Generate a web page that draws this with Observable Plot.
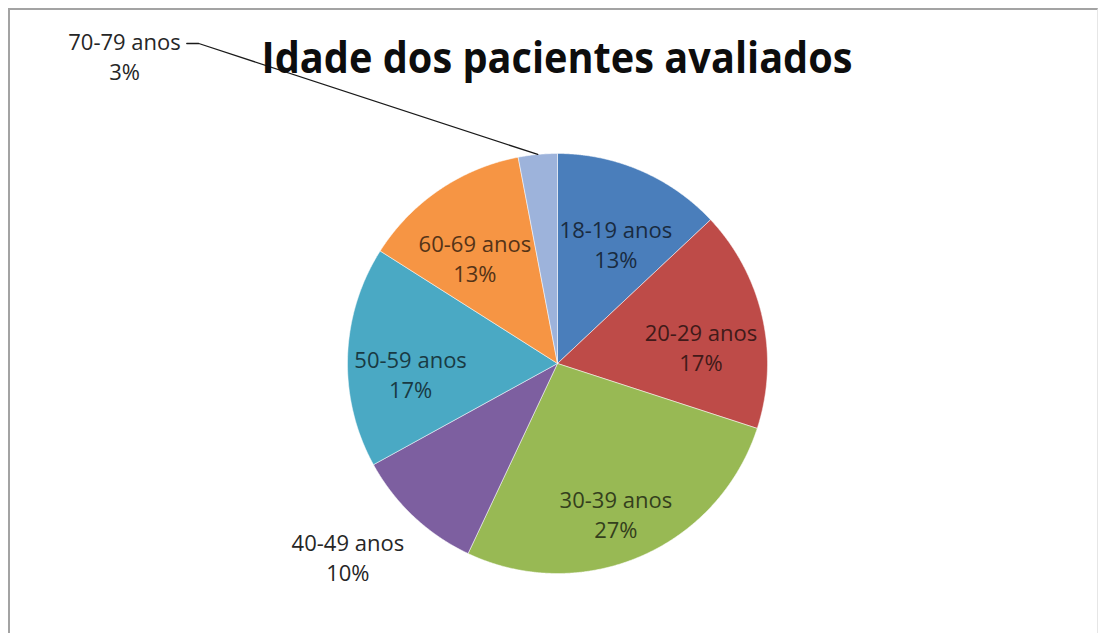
<!DOCTYPE html>
<html>
<head>
<meta charset="utf-8">
<script src="https://cdn.jsdelivr.net/npm/d3@7"></script>
<script src="https://cdn.jsdelivr.net/npm/@observablehq/plot@0.6"></script>
<style>
  body { margin: 0; background: #fff; }
  #wrap { position: relative; width: 1099px; height: 633px; overflow: hidden; background: #fff; }
  #frame { position: absolute; left: 8px; top: 8px; width: 1090px; height: 700px; box-sizing: border-box;
           border-top: 2px solid #a3a3a3; border-left: 2px solid #a3a3a3; border-right: 1px solid #e6e6e6; }
  #title { position: absolute; left: 0; top: 35px; width: 1115px; text-align: center;
           font-family: "Open Sans", sans-serif; font-weight: 700; font-size: 43px; line-height: 43px; color: #0d0d0d; white-space: nowrap; }
  #title span { display: inline-block; transform-origin: center; }
  #chart { position: absolute; left: 0; top: 0; }
</style>
</head>
<body>
<div id="wrap">
  <div id="frame"></div>
  <div id="chart"></div>
  <div id="title"><span>Idade dos pacientes avaliados</span></div>
</div>
<script>
// ---- data ----
const categories = ["18-19 anos", "20-29 anos", "30-39 anos", "40-49 anos", "50-59 anos", "60-69 anos", "70-79 anos"];
const values = [13, 17, 27, 10, 17, 13, 3];
const colors = ["#4a7ebb", "#be4b48", "#98b954", "#7d5fa0", "#4aa9c4", "#f69544", "#9db3db"];
const placement = ["inside", "inside", "inside", "outside", "inside", "inside", "callout"];

// ---- layout ----
const W = 1099, H = 633;
const cx = 557, cy = 363, R = 210;
const fontFamily = "Open Sans";
const fontSize = 22, lineH = 30;
const calloutCenter = {x: 124, y: 55};
const titleWidth = 591;

const total = d3.sum(values);
const arcs = d3.pie().sort(null).value(d => d)(values);
const polar = (a, r) => ({x: cx + r * Math.sin(a), y: cy - r * Math.cos(a)});

// slice polygons
const slicePts = arcs.map((a, i) => {
  const n = Math.max(4, Math.ceil((a.endAngle - a.startAngle) / 0.005));
  const pts = [{x: cx, y: cy}];
  for (let k = 0; k <= n; k++) pts.push(polar(a.startAngle + (a.endAngle - a.startAngle) * k / n, R));
  pts.push({x: cx, y: cy});
  return pts;
});

// text measuring
const ctx = document.createElement("canvas").getContext("2d");
ctx.font = `${fontSize}px "${fontFamily}"`;
const measure = s => ctx.measureText(s).width;

const labels = [];
const leaders = [];
arcs.forEach((a, i) => {
  const mid = (a.startAngle + a.endAngle) / 2;
  const pct = Math.round(values[i] / total * 100) + "%";
  const text = categories[i] + "\n" + pct;
  const w = Math.max(measure(categories[i]), measure(pct));
  let p;
  if (placement[i] === "inside") {
    const q = polar(mid, R * 0.7);
    p = {x: q.x, y: q.y + 15};
    labels.push({...p, text, fill: d3.color(colors[i]).darker(3).formatHex()});
  } else if (placement[i] === "outside") {
    const q = polar(mid, R + 14);
    const dx = Math.sin(mid), dy = -Math.cos(mid);
    p = {x: q.x + (dx < 0 ? -w / 2 : w / 2), y: q.y + (dy > 0 ? lineH : -lineH)};
    labels.push({...p, text, fill: "#262626"});
  } else {
    p = calloutCenter;
    labels.push({...p, text, fill: "#262626"});
    const edge = polar(mid, R);
    const ly = p.y - lineH / 2 + 3;
    const lx = p.x + w / 2 + 6;
    leaders.push({x: lx, y: ly}, {x: lx + 12, y: ly}, edge);
  }
});

const plot = Plot.plot({
  width: W, height: H, margin: 0,
  x: {domain: [0, W], range: [0, W], axis: null},
  y: {domain: [0, H], range: [0, H], axis: null},
  color: {type: "identity"},
  style: {background: "transparent", overflow: "visible"},
  marks: [
    ...slicePts.map((pts, i) => Plot.line(pts, {x: "x", y: "y", fill: colors[i], stroke: "#ffffff", strokeWidth: 1, strokeOpacity: 0.5, curve: "linear"})),
    Plot.line(leaders, {x: "x", y: "y", stroke: "#1a1a1a", strokeWidth: 1.3, curve: "linear"}),
    Plot.text(labels, {x: "x", y: "y", text: "text", fill: "fill", fontSize, fontFamily, lineHeight: lineH / fontSize, textAnchor: "middle"})
  ]
});
document.getElementById("chart").appendChild(plot);

// fit title width
const span = document.querySelector("#title span");
const tw = span.getBoundingClientRect().width;
span.style.transform = `scaleX(${titleWidth / tw})`;
</script>
</body>
</html>
